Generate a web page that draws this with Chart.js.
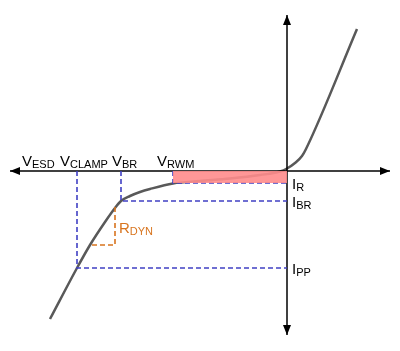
<!DOCTYPE html>
<html>
<head>
<meta charset="utf-8">
<script src="https://cdn.jsdelivr.net/npm/chart.js@4"></script>
<style>
  body { margin: 0; background: #fff; }
  #wrap { width: 400px; height: 351px; }
</style>
</head>
<body>
<div id="wrap"><canvas id="ivChart"></canvas></div>
<script>
// TVS diode I-V curve (voltage / current in arbitrary units)
const curveV = [-23.7, -21.0, -19.7, -18.2, -17.2, -16.6, -15.7, -14.7, -13.7, -11.4, -8.7, -5.7, -2.7, -0.7, 0, 0.8, 1.5, 1.9, 7.0];
const curveI = [-14.8, -9.7, -7.4, -5.1, -3.7, -3.0, -2.5, -2.1, -1.8, -1.25, -1.0, -0.75, -0.4, -0.05, 0.25, 0.8, 1.5, 2.2, 14.2];

// characteristic points
const vClamp = -21.0, iPP = -9.7;
const vBR = -16.6, iBR = -3.0;
const vRWM = -11.4, iR = -1.2;
// dynamic resistance triangle
const rdynV = [-19.7, -17.2];
const rdynI = [-3.6, -7.4];

// axis extents
const axisV = [-27.7, 10.3];
const axisI = [-16.4, 15.6];

const blue = '#4040c4';
const orange = '#d8741e';

function seg(pts) { return pts.map(p => ({ x: p[0], y: p[1] })); }

function dashed(pts, color) {
  return {
    data: seg(pts), showLine: true, pointRadius: 0,
    borderColor: color, borderWidth: 1.6, borderDash: [5, 3]
  };
}

const datasets = [
  // VRWM region
  {
    data: seg([[vRWM, iR], [0, iR]]), showLine: true, pointRadius: 0,
    borderWidth: 0, backgroundColor: 'rgba(255,140,140,0.9)', fill: { value: 0 }
  },
  dashed([[vClamp, 0], [vClamp, iPP], [0, iPP]], blue),
  dashed([[vBR, 0], [vBR, iBR], [0, iBR]], blue),
  dashed([[vRWM, 0], [vRWM, iR], [0, iR]], blue),
  dashed([[rdynV[1], rdynI[0]], [rdynV[1], rdynI[1]], [rdynV[0], rdynI[1]]], orange),
  // axes
  { data: seg([[axisV[0], 0], [axisV[1], 0]]), showLine: true, pointRadius: 0, borderColor: '#000', borderWidth: 1.5 },
  { data: seg([[0, axisI[0]], [0, axisI[1]]]), showLine: true, pointRadius: 0, borderColor: '#000', borderWidth: 1.5 },
  // curve
  {
    data: curveV.map((v, i) => ({ x: v, y: curveI[i] })), showLine: true, pointRadius: 0,
    borderColor: '#595959', borderWidth: 2.5, cubicInterpolationMode: 'monotone'
  }
];

const labels = [
  { main: 'V', sub: 'ESD', v: -26.5, i: 0.5, color: '#000' },
  { main: 'V', sub: 'CLAMP', v: -22.7, i: 0.5, color: '#000' },
  { main: 'V', sub: 'BR', v: -17.5, i: 0.5, color: '#000' },
  { main: 'V', sub: 'RWM', v: -13.0, i: 0.5, color: '#000' },
  { main: 'I', sub: 'R', v: 0.5, i: -1.8, color: '#000' },
  { main: 'I', sub: 'BR', v: 0.5, i: -3.6, color: '#000' },
  { main: 'I', sub: 'PP', v: 0.5, i: -10.3, color: '#000' },
  { main: 'R', sub: 'DYN', v: -16.8, i: -6.2, color: orange }
];

const overlay = {
  id: 'overlay',
  afterDatasetsDraw(chart) {
    const { ctx, scales: { x, y } } = chart;
    ctx.save();
    ctx.fillStyle = '#000';
    // arrow heads
    const arrow = (tx, ty, dx, dy) => {
      const len = 10, w = 4;
      ctx.beginPath();
      ctx.moveTo(tx, ty);
      ctx.lineTo(tx - dx * len - dy * w, ty - dy * len + dx * w);
      ctx.lineTo(tx - dx * len + dy * w, ty - dy * len - dx * w);
      ctx.closePath();
      ctx.fill();
    };
    const x0 = x.getPixelForValue(0), y0 = y.getPixelForValue(0);
    arrow(x.getPixelForValue(axisV[0]), y0, -1, 0);
    arrow(x.getPixelForValue(axisV[1]), y0, 1, 0);
    arrow(x0, y.getPixelForValue(axisI[1]), 0, -1);
    arrow(x0, y.getPixelForValue(axisI[0]), 0, 1);
    // labels
    ctx.textBaseline = 'alphabetic';
    ctx.textAlign = 'left';
    labels.forEach(l => {
      const px = x.getPixelForValue(l.v), py = y.getPixelForValue(l.i);
      ctx.fillStyle = l.color;
      ctx.font = '15px "Liberation Sans", Arial, sans-serif';
      ctx.fillText(l.main, px, py);
      const w = ctx.measureText(l.main).width;
      ctx.font = '11px "Liberation Sans", Arial, sans-serif';
      ctx.fillText(l.sub, px + w, py + 2);
    });
    ctx.restore();
  }
};

new Chart(document.getElementById('ivChart'), {
  type: 'scatter',
  data: { datasets },
  options: {
    responsive: true,
    maintainAspectRatio: false,
    animation: false,
    layout: { padding: 0 },
    plugins: { legend: { display: false }, tooltip: { enabled: false } },
    scales: {
      x: { type: 'linear', min: -28.7, max: 11.3, display: false },
      y: { type: 'linear', min: -18.0, max: 17.1, display: false }
    }
  },
  plugins: [overlay]
});
</script>
</body>
</html>
